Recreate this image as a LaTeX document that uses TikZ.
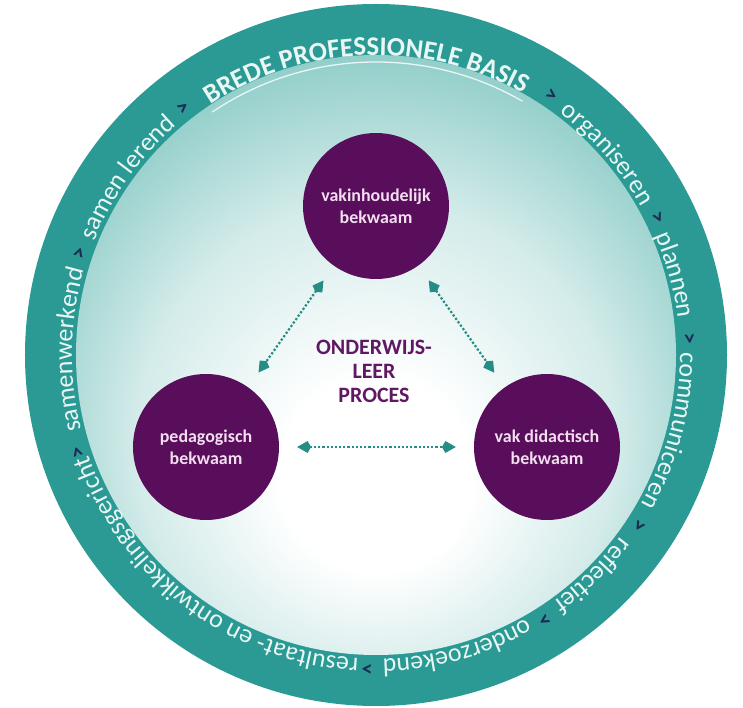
\documentclass[tikz,border=0pt]{standalone}
\usepackage{fontspec}
\setmainfont{Carlito}
\usetikzlibrary{arrows.meta,decorations.text}
\definecolor{ringteal}{RGB}{43,154,148}
\definecolor{glowmid}{RGB}{110,190,184}
\definecolor{arrowteal}{RGB}{38,140,134}
\definecolor{circpurple}{RGB}{88,14,90}
\definecolor{circtext}{RGB}{243,222,240}
\definecolor{procpurple}{RGB}{96,24,100}
\definecolor{chevnavy}{RGB}{30,42,85}
\definecolor{ringtext}{RGB}{232,246,244}
\pgfdeclareradialshading{glow}{\pgfpoint{0bp}{-12bp}}{%
  color(0bp)=(white); color(8bp)=(white); color(20bp)=(glowmid!30!white);
  color(32bp)=(glowmid!85!white); color(42bp)=(ringteal); color(50bp)=(ringteal)}
\newcommand\ringfont{\fontsize{26}{26}\selectfont\color{ringtext}}
\newcommand\bredefont{\fontsize{27}{27}\selectfont\bfseries\color{ringtext}}
\def\ringr{304}
\tikzset{
  competence/.style={circle, fill=circpurple, minimum size=146bp, inner sep=0pt,
    align=center, text=circtext, font=\fontsize{18}{22}\selectfont\bfseries},
  proces/.style={align=center, text=procpurple, font=\fontsize{22}{24}\selectfont\bfseries},
  link/.style={arrowteal, line width=2.2pt, dotted,
    {Kite[length=14pt,width=12pt]}-{Kite[length=14pt,width=12pt]},
    shorten <=18pt, shorten >=18pt},
  chevron/.style={text=chevnavy, font=\fontsize{22}{22}\selectfont\bfseries, inner sep=0pt},
}

\begin{document}
\begin{tikzpicture}[x=1bp,y=1bp]
      \coordinate (O) at (0,0);
      \fill[white] (-376,-353) rectangle (367,355);
      \useasboundingbox (-376,-353) rectangle (367,355);

      % ring and glow
      \fill[ringteal] (O) circle (351);
      \shade[shading=glow] (O) circle (300);

      % ring texts, clockwise
      \foreach \ang / \txt in
      {
        144.5/samen lerend,
        41/organiseren,
        15/plannen,
        -14.5/communiceren,
        -45.5/reflectief,
        -74.5/onderzoekend,
        -127/resultaat- en ontwikkelingsgericht,
        179/samenwerkend
      }
      {
        \path[decorate, decoration={text along path, text align=center,
            text/.expanded={|\noexpand\ringfont|\txt}}]
          (\ang+40:\ringr) arc[start angle=\ang+40, end angle=\ang-40, radius=\ringr];
      }
      \path[decorate, decoration={text along path, text align=center,
          text={|\bredefont|BREDE PROFESSIONELE BASIS}}]
        (132:\ringr-4) arc[start angle=132, end angle=52, radius=\ringr-4];
      \draw[ringtext, line width=1.3pt] (124:293) arc[start angle=124, end angle=60, radius=293];

      \foreach \ang [count=\i] in {128,56,26,3,-33,-57.5,-91.6,-162,161}
      {
        \node[chevron, rotate=\ang-90] (chev\i) at (\ang:\ringr+9) {>};
      }

      % competences
      \node[competence] (vak) at (0,149) {vakinhoudelijk\\bekwaam};
      \node[competence] (ped) at (-170,-92) {pedagogisch\\bekwaam};
      \node[competence] (did) at (171,-92) {vak didactisch\\bekwaam};
      \node[proces] (proc) at (-2,-16) {ONDERWIJS-\\LEER\\PROCES};

      \draw[link] (vak) -- (ped);
      \draw[link] (vak) -- (did);
      \draw[link] (ped) -- (did);
\end{tikzpicture}
\end{document}
